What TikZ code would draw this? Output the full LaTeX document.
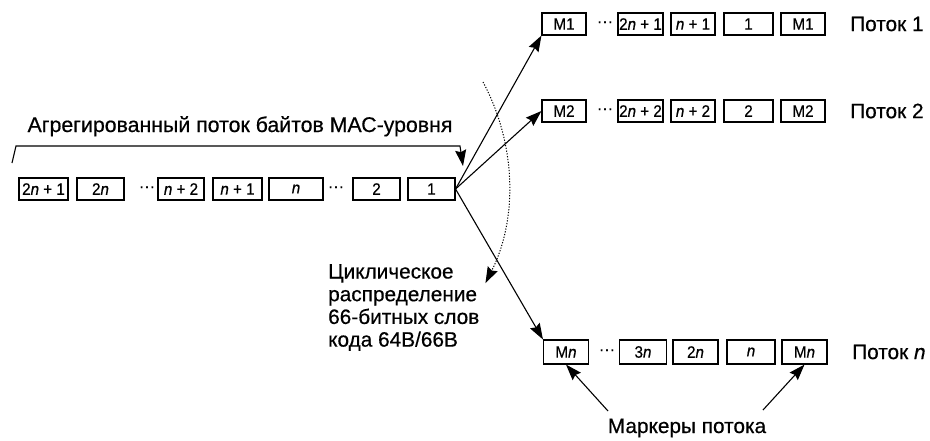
\documentclass[tikz,border=0pt]{standalone}
\usepackage{fontspec}
\setmainfont{Liberation Sans}[FakeBold=0.5]
\newfontfamily\boxfont{Liberation Sans}[FakeStretch=0.92,FakeBold=0.5]
\usetikzlibrary{arrows.meta}
\newcommand{\bigf}{\fontsize{20.8}{22.7}\selectfont}
\newcommand{\smf}{\boxfont\fontsize{16.5}{18}\selectfont}
\newcommand{\dotsf}{\fontsize{16}{18}\selectfont ···}
\begin{document}
\begin{tikzpicture}[x=1pt,y=-1pt,
  box/.style={draw=black,line width=1.1pt,minimum height=22pt,inner sep=0pt,font=\smf},
  dts/.style={inner sep=0pt},
  lbl/.style={inner sep=0pt,font=\bigf},
  arr/.style={line width=1.1pt,-{Stealth[length=16pt,width=11pt,inset=2pt]}},
  darr/.style={line width=1pt,dash pattern=on 1.2pt off 1.6pt,-{Stealth[length=16pt,width=11pt,inset=2pt]}}]
\useasboundingbox (0,0) rectangle (930,440);
% left row
\node[box,minimum width=49pt] (b1) at (43.5,189) {2\textit{n} + 1};
\node[box,minimum width=47pt] (b2) at (100.5,189) {2\textit{n}};
\node[dts] (d1) at (147,189) {\dotsf};
\node[box,minimum width=46pt] (b3) at (181,189) {\textit{n} + 2};
\node[box,minimum width=49pt] (b4) at (237.5,189) {\textit{n} + 1};
\node[box,minimum width=54pt] (b5) at (296,189) {\textit{n}};
\node[dts] (d2) at (336,189) {\dotsf};
\node[box,minimum width=47pt] (b6) at (376.5,189) {2};
\node[box,minimum width=47pt] (b7) at (431.5,189) {1};
% heading with bracket
\node[lbl,anchor=base,font=\fontsize{21.3}{24}\selectfont] (head) at (240,132) {Агрегированный поток байтов МАС-уровня};
\coordinate (brl) at (12,163);
\coordinate (brtl) at (16,146);
\coordinate (brtr) at (460,146);
\coordinate (brend) at (463,166);
\draw[arr] (brl) -- (brtl) -- (brtr) -- (brend);
% row 1
\node[box,minimum width=44pt] (m1) at (564,24) {M1};
\node[dts] (r1d) at (605,24) {\dotsf};
\node[box,minimum width=45pt] (r1c2) at (640.5,24) {2\textit{n} + 1};
\node[box,minimum width=44pt] (r1c3) at (693,24) {\textit{n} + 1};
\node[box,minimum width=49pt] (r1c4) at (748.5,24) {1};
\node[box,minimum width=44pt] (r1c5) at (803,24) {M1};
\node[lbl,anchor=west] (p1) at (850,24) {Поток 1};
% row 2
\node[box,minimum width=44pt] (m2) at (564,111) {M2};
\node[dts] (r2d) at (605,111) {\dotsf};
\node[box,minimum width=45pt] (r2c2) at (640.5,111) {2\textit{n} + 2};
\node[box,minimum width=44pt] (r2c3) at (693,111) {\textit{n} + 2};
\node[box,minimum width=49pt] (r2c4) at (748.5,111) {2};
\node[box,minimum width=44pt] (r2c5) at (803,111) {M2};
\node[lbl,anchor=west] (p2) at (850,111) {Поток 2};
% row n
\node[box,minimum width=45pt,minimum height=24pt] (mn) at (566,352) {M\textit{n}};
\node[dts] (rnd) at (607,352) {\dotsf};
\node[box,minimum width=47pt,minimum height=24pt] (rnc2) at (643,352) {3\textit{n}};
\node[box,minimum width=45pt,minimum height=24pt] (rnc3) at (695.5,352) {2\textit{n}};
\node[box,minimum width=48pt,minimum height=24pt] (rnc4) at (751,352) {\textit{n}};
\node[box,minimum width=45pt,minimum height=24pt] (rnc5) at (804.5,352) {M\textit{n}};
\node[lbl,anchor=west] (pn) at (852,352) {Поток \textit{n}};
% distribution arrows
\draw[arr] (b7.east) -- (m1.south west);
\draw[arr] (b7.east) -- (m2.west);
\draw[arr] (b7.east) -- (mn.north west);
% dotted arc
\coordinate (arcS) at (483,82);
\draw[darr] (arcS) arc[start angle=-28.3, end angle=26.9, radius=217];
% cyclic text
\node[lbl,anchor=north west,align=left] (cyc) at (328,264) {Циклическое\\распределение\\66-битных слов\\кода 64В/66В};
% markers
\node[lbl,anchor=base] (mk) at (687,433) {Маркеры потока};
\coordinate (mkl) at (608,411);
\coordinate (mkr) at (763,410);
\draw[arr] (mkl) -- (mn.south);
\draw[arr] (mkr) -- (rnc5.south);
\end{tikzpicture}
\end{document}
